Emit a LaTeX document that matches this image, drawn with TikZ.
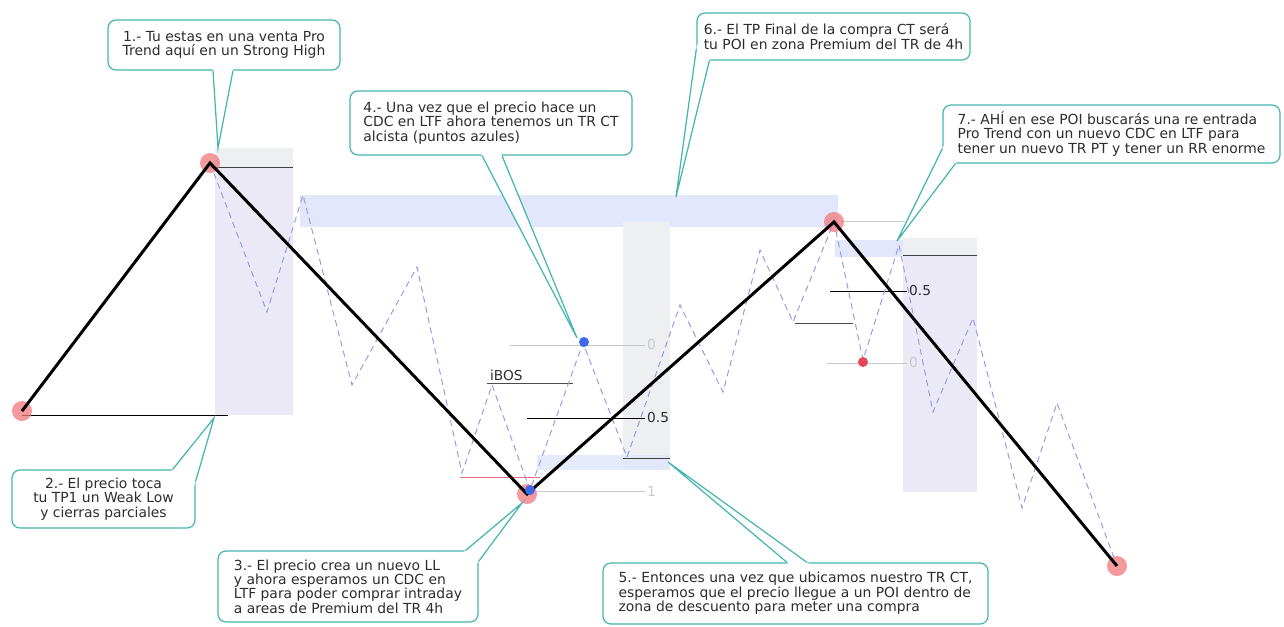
\documentclass[tikz,border=0pt]{standalone}
\usepackage{fontspec}
\setmainfont{DejaVu Sans}
\usetikzlibrary{positioning,calc}
\definecolor{callout-teal}{RGB}{69,181,176}
\definecolor{pivot-red}{RGB}{240,120,125}
\definecolor{ltf-blue}{RGB}{145,155,228}
\definecolor{band-blue}{RGB}{226,231,251}
\definecolor{zone-lilac}{RGB}{236,233,246}
\definecolor{zone-gray}{RGB}{237,239,241}
\definecolor{level-gray}{RGB}{200,200,200}
\definecolor{text-gray}{RGB}{45,45,45}
\definecolor{dot-blue}{RGB}{61,105,232}
\definecolor{dot-red}{RGB}{232,69,90}
\newdimen\pxsize
\setlength{\pxsize}{0.02cm}
\tikzstyle{pivotstyle}=[shape=circle,fill=pivot-red,fill opacity=0.75,inner sep=0pt,minimum size=20\pxsize]
\tikzstyle{dotstyle}=[shape=circle,inner sep=0pt,minimum size=10\pxsize]
\tikzstyle{calloutstyle}=[shape=rectangle,draw=callout-teal,fill=white,line width=0.7pt,rounded corners=4.5pt,font=\fontsize{7.9}{8.2}\selectfont,text=text-gray,inner sep=0pt]
\tikzstyle{tailstyle}=[draw=callout-teal,line width=0.7pt]
\tikzstyle{trendstyle}=[line width=1.7pt,black]
\tikzstyle{ltfstyle}=[ltf-blue,line width=0.55pt,dash pattern=on 3.5pt off 2.5pt]
\tikzstyle{levelstyle}=[line width=0.5pt]
\tikzstyle{leveltext}=[font=\fontsize{7.8}{8}\selectfont,inner sep=1pt]
\newcommand{\tpbox}[6]{ \node[calloutstyle,minimum width=#4\pxsize,minimum height=#5\pxsize,align=#6] (#1) at (#2) {#3}; }
\newcommand{\tptail}[4]{ \coordinate (#1) at (#2); \fill[white] ($(#3)!-2.5pt!(#1)$) -- (#1) -- ($(#4)!-2.5pt!(#1)$) -- cycle; \draw[tailstyle] (#3) -- (#1) -- (#4); }

\begin{document}
\begin{tikzpicture}[x=\pxsize,y=-\pxsize]
\useasboundingbox (0,0) rectangle (1284,626);
% zones
\fill[zone-gray] (215,148) rectangle (293,167);
\fill[zone-lilac] (215,167) rectangle (293,415);
\fill[band-blue] (300,195) rectangle (838,227);
\fill[zone-gray] (623,222) rectangle (670,470);
\fill[band-blue,fill opacity=0.85] (537,455) rectangle (670,470);
\fill[band-blue] (835,240) rectangle (903,257);
\fill[zone-gray] (903,238) rectangle (977,255);
\fill[zone-lilac] (903,255) rectangle (977,492);
% levels
\draw[levelstyle,black!75] (210,167) -- (293,167);
\draw[levelstyle,black] (22,415) -- (228,415);
\draw[levelstyle,level-gray] (510,345) -- (645,345) node[leveltext,right,text=level-gray] (fib0) {0};
\draw[levelstyle,black!70] (487,383) -- (573,383);
\node[leveltext,anchor=south west,text=text-gray] (ibos) at (488,383) {iBOS};
\draw[levelstyle,black] (527,418) -- (645,418) node[leveltext,right,text=text-gray] (fib5) {0.5};
\draw[levelstyle,level-gray] (537,491) -- (645,491) node[leveltext,right,text=level-gray] (fib1) {1};
\draw[levelstyle,black!75] (623,458) -- (670,458);
\draw[levelstyle,dot-red!80] (460,477) -- (540,477);
\draw[levelstyle,level-gray] (840,221) -- (905,221);
\draw[levelstyle,black!75] (903,255) -- (977,255);
\draw[levelstyle,black] (830,291) -- (907,291) node[leveltext,right,text=text-gray] (fibr5) {0.5};
\draw[levelstyle,black!70] (795,323) -- (853,323);
\draw[levelstyle,level-gray] (827,363) -- (907,363) node[leveltext,right,text=level-gray] (fibr0) {0};
% ltf swings
\draw[ltfstyle] plot coordinates {(210,163) (267,312) (303,195) (352,385) (417,267) (462,473) (492,385) (530,490) (583,343) (627,457) (680,305) (723,392) (760,250) (793,322) (834,222) (863,360) (899,245) (933,412) (973,318) (1022,508) (1057,403) (1117,566)};
% htf swings
\node[pivotstyle] (l0) at (22,411) {};
\node[pivotstyle] (h1) at (210,163) {};
\node[pivotstyle] (l1) at (527,494) {};
\node[pivotstyle] (h2) at (834,222) {};
\node[pivotstyle] (l2) at (1117,566) {};
\draw[trendstyle] (l0.center) -- (h1.center) -- (l1.center) -- (h2.center) -- (l2.center);
\node[dotstyle,fill=dot-blue] (ctlow) at (530,490) {};
\node[dotstyle,fill=dot-blue] (cthigh) at (584,342) {};
\node[dotstyle,fill=dot-red] (ptlow) at (863,362) {};
% callouts
\tpbox{c1}{224,45}{1.- Tu estas en una venta Pro\\Trend aquí en un Strong High}{232}{50}{center} %
\tptail{tip1}{218,148}{$(c1.south)+(-11,0)$}{$(c1.south)+(9,0)$} %
\tpbox{c2}{103.5,499}{2.- El precio toca\\tu TP1 un Weak Low\\y cierras parciales}{183}{58}{center} %
\tptail{tip2}{214,418}{$(c2.north east)+(-23,0)$}{$(c2.north east)+(0,12)$} %
\tpbox{c3}{348,586.5}{3.- El precio crea un nuevo LL\\y ahora esperamos un CDC en\\LTF para poder comprar intraday\\a areas de Premium del TR 4h}{260}{71}{left} %
\tptail{tip3}{522,503}{$(c3.north east)+(-13,0)$}{$(c3.north east)+(0,11)$} %
\tpbox{c4}{491,123}{4.- Una vez que el precio hace un\\CDC en LTF ahora tenemos un TR CT\\alcista (puntos azules)}{282}{64}{left} %
\tptail{tip4}{577,338}{$(c4.south)+(-9,0)$}{$(c4.south)+(11,0)$} %
\tpbox{c5}{795.5,593.5}{5.- Entonces una vez que ubicamos nuestro TR CT,\\esperamos que el precio llegue a un POI dentro de\\zona de descuento para meter una compra}{385}{61}{left} %
\tptail{tip5}{668,462}{$(c5.north)+(-8.5,0)$}{$(c5.north)+(11.5,0)$} %
\tpbox{c6}{833.5,36.5}{6.- El TP Final de la compra CT será\\tu POI en zona Premium del TR de 4h}{273}{47}{left} %
\tptail{tip6}{676,197}{$(c6.south west)+(0,-12)$}{$(c6.south west)+(13,0)$} %
\tpbox{c7}{1111.5,134}{7.- AHÍ en ese POI buscarás una re entrada\\Pro Trend con un nuevo CDC en LTF para\\tener un nuevo TR PT y tener un RR enorme}{337}{58}{left} %
\tptail{tip7}{897,241}{$(c7.south west)+(0,-15)$}{$(c7.south west)+(13,0)$} %
\end{tikzpicture}
\end{document}
